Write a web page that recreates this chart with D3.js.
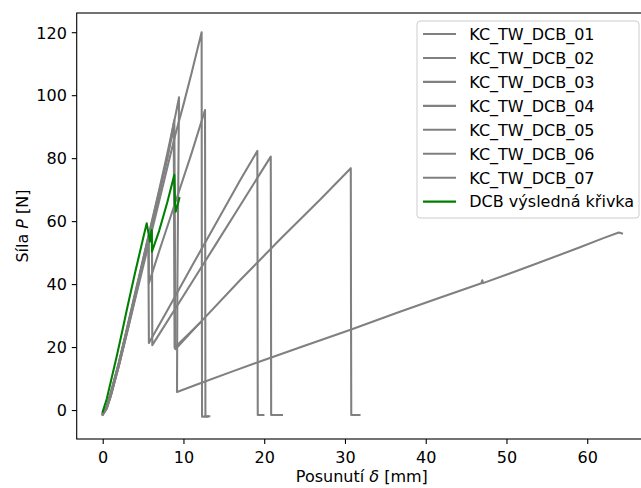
<!DOCTYPE html>
<html>
<head>
<meta charset="utf-8">
<script src="https://cdn.jsdelivr.net/npm/d3@7"></script>
<style>
  body{margin:0;background:#fff;}
  svg{display:block;font-family:"DejaVu Sans",sans-serif;}
</style>
</head>
<body>
<svg></svg>
<script>
// [posunuti mm, sila N]
var kc01 = [[0,-1.2],[0.5,1],[1,5],[2,14.5],[3,25],[4,36],[5,47.5],[5.65,55],[5.68,40],[5.72,21.3],[8,31.6],[11,45.5],[14,59.2],[17,72.9],[19.15,82.3],[19.18,40],[19.2,-1.6],[19.9,-1.6]];
var kc02 = [[0,-1.5],[0.5,0.5],[1,4.5],[2,14],[3,24.5],[4,35.5],[5,46.5],[6,57.5],[6.1,59],[6.12,40],[6.14,20.6],[10,36.3],[14,52.6],[17,64.9],[20.81,80.5],[20.84,40],[20.86,-1.6],[22.2,-1.6]];
var kc03 = [[0,-1],[0.5,1],[1,5.5],[2,15],[3,25.5],[4,36.5],[5,47],[6,57.5],[7,68.5],[8,80],[8.87,92.1],[8.95,50],[9.0,19.3],[12,27.6],[17,41.2],[22,54.3],[27,67],[30.72,76.8],[30.75,30],[30.78,-1.6],[31.8,-1.6]];
var kc04 = [[0,-1.5],[0.5,0.5],[1,5],[2,15],[3,26],[4,37],[5,48],[6,59],[7,70],[8,81.5],[9,93.5],[9.45,99.3],[9.25,40],[9.2,5.7],[12,8.4],[16,12.2],[20,15.9],[25,20.4],[30.6,25.4],[36.8,31.2],[42,35.9],[46.9,40.3],[47.0,41.2],[47.1,40.3],[53,45.8],[59.1,51.7],[62,54.6],[63.9,56.4],[64.3,56.1]];
var kc05 = [[0,-1.2],[0.4,0.5],[1,4.5],[2,14],[3,24.5],[4,35],[5,45.5],[6,56],[7,66.5],[8,77],[9,87.5],[10,97],[11,107],[12.25,120],[12.27,60],[12.3,-2.1],[13.0,-2.1]];
var kc06 = [[0,-1.5],[0.5,0.5],[1,4.5],[2,14.5],[3,25],[4,36],[5,47],[5.7,54],[5.72,40.3],[7,50.5],[9,66],[11,81.5],[12.67,95.3],[12.7,40],[12.72,-2],[13.2,-2]];
var kc07 = [[0,-1],[0.5,1],[1,5.5],[2,15],[3,25.5],[4,36.5],[5,47.5],[6,58.5],[7,69.5],[8,80],[8.8,90],[8.85,50],[8.9,19.8],[12,27.6]];
var vysledna = [[0,-0.5],[0.5,3.5],[1,9],[1.73,17],[2.5,26],[3,32],[4,43.5],[5,54.5],[5.45,59.3],[5.86,53.5],[6.07,57.2],[6.1,50.3],[7,57],[8,66],[8.87,74.7],[8.95,66],[9.04,63],[9.49,67.3]];

var nazvy = ["KC_TW_DCB_01","KC_TW_DCB_02","KC_TW_DCB_03","KC_TW_DCB_04","KC_TW_DCB_05","KC_TW_DCB_06","KC_TW_DCB_07","DCB výsledná křivka"];
var xTicks = [0,10,20,30,40,50,60];
var yTicks = [0,20,40,60,80,100,120];

start();

function start(){
  var series = [kc01,kc02,kc03,kc04,kc05,kc06,kc07,vysledna];
  var barvy = ["#808080","#808080","#808080","#808080","#808080","#808080","#808080","#008000"];
  graph(series, barvy);
}

function graph(series, barvy){
  var width = 641, height = 488;
  var left = 76.7, right = 647, top = 13, bottom = 439;
  var fs = "16px";

  var svg = d3.select("svg")
              .attr("width",width)
              .attr("height",height);

  var x = d3.scaleLinear().domain([-3.22,67.4]).range([left,right]);
  var y = d3.scaleLinear().domain([-9.2,126.1]).range([bottom,top]);

  var line = d3.line()
               .x(function(d){return x(d[0]);})
               .y(function(d){return y(d[1]);});

  svg.append("defs").append("clipPath")
     .attr("id","osa")
     .append("rect")
     .attr("x",left).attr("y",top)
     .attr("width",right-left).attr("height",bottom-top);

  svg.append("g")
     .attr("clip-path","url(#osa)")
     .selectAll("path")
     .data(series)
     .enter()
     .append("path")
     .attr("d",line)
     .attr("fill","none")
     .attr("stroke",function(d,i){return barvy[i];})
     .attr("stroke-width",2.08)
     .attr("stroke-linejoin","round")
     .attr("stroke-linecap","square");

  // osy
  var xAxis = d3.axisBottom(x).tickValues(xTicks).tickSize(4.9).tickPadding(4.9);
  var yAxis = d3.axisLeft(y).tickValues(yTicks).tickSize(4.9).tickPadding(4.9);

  var gx = svg.append("g").attr("transform","translate(0,"+bottom+")").call(xAxis);
  var gy = svg.append("g").attr("transform","translate("+left+",0)").call(yAxis);
  [gx,gy].forEach(function(g){
    g.select(".domain").remove();
    g.selectAll("line").attr("stroke","#000").attr("stroke-width",1.1);
    g.selectAll("text").attr("fill","#000").style("font-size",fs).style("font-family","DejaVu Sans");
  });
  gx.selectAll("text").attr("dy",null).attr("y",24.3);
  gy.selectAll("text").attr("dy",null).attr("y",5.8);

  svg.append("rect")
     .attr("x",left).attr("y",top)
     .attr("width",right-left).attr("height",bottom-top)
     .attr("fill","none")
     .attr("stroke","#000")
     .attr("stroke-width",1.1);

  var xl = svg.append("text")
     .attr("x",(left+right)/2)
     .attr("y",482)
     .attr("text-anchor","middle")
     .style("font-size",fs);
  xl.append("tspan").text("Posunutí ");
  xl.append("tspan").style("font-style","italic").text("δ");
  xl.append("tspan").text(" [mm]");

  var yl = svg.append("text")
     .attr("transform","translate(27.5,"+((top+bottom)/2)+") rotate(-90)")
     .attr("text-anchor","middle")
     .style("font-size",fs);
  yl.append("tspan").text("Síla ");
  yl.append("tspan").style("font-style","italic").text("P");
  yl.append("tspan").text(" [N]");

  // legenda
  var leg = svg.append("g");
  leg.append("rect")
     .attr("x",417).attr("y",21)
     .attr("width",222).attr("height",197)
     .attr("rx",3)
     .attr("fill","#fff").attr("fill-opacity",0.8)
     .attr("stroke","#cccccc").attr("stroke-width",1);

  var polozky = leg.selectAll("g.item")
     .data(nazvy)
     .enter()
     .append("g")
     .attr("class","item")
     .attr("transform",function(d,i){return "translate(0,"+(34+i*23.95)+")";});
  polozky.append("line")
     .attr("x1",423).attr("x2",456)
     .attr("stroke",function(d,i){return barvy[i];})
     .attr("stroke-width",2.08);
  polozky.append("text")
     .attr("x",469.3).attr("y",5.8)
     .style("font-size",fs)
     .text(function(d){return d;});
}
</script>
</body>
</html>
